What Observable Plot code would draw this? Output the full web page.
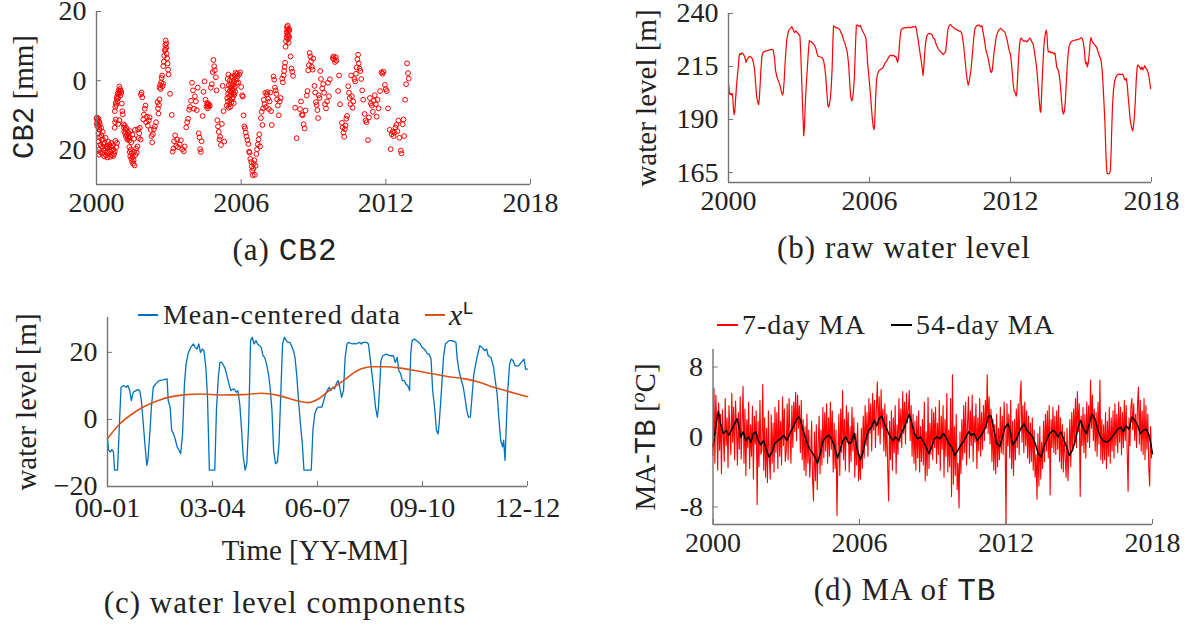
<!DOCTYPE html>
<html><head><meta charset="utf-8">
<script src="https://cdn.jsdelivr.net/npm/d3@7"></script>
<script src="https://cdn.jsdelivr.net/npm/@observablehq/plot@0.6"></script>
<style>
body{margin:0;background:#fff;}
#root{position:relative;width:1190px;height:625px;overflow:hidden;font-family:"Liberation Serif",serif;color:#222;}
.lbl{position:absolute;white-space:nowrap;font-size:29px;line-height:1;}
.rot{transform:translate(-50%,-50%) rotate(-90deg);}
.ctr{transform:translate(-50%,-50%);}
.cap{font-size:31px;letter-spacing:1px;}
.tt{font-family:"Liberation Mono",monospace;}
.leg{position:absolute;height:1.6px;}
</style></head><body><div id="root"></div><script>
// ---------- (a) CB2 ----------
const cb2 = [
[2000.00,-11.0],[2000.01,-12.3],[2000.02,-10.7],[2000.03,-13.1],[2000.05,-11.6],[2000.06,-12.7],[2000.08,-11.0],[2000.10,-13.4],[2000.12,-11.9],[2000.14,-12.6],
[2000.08,-15.2],[2000.09,-17.6],[2000.10,-19.9],[2000.11,-21.4],[2000.13,-14.2],[2000.15,-16.3],[2000.16,-18.5],[2000.17,-20.7],[2000.19,-13.6],[2000.20,-15.7],[2000.22,-17.1],[2000.23,-19.1],[2000.24,-21.1],[2000.26,-14.8],[2000.27,-16.9],[2000.29,-18.3],[2000.30,-20.2],[2000.32,-21.9],[2000.34,-17.9],[2000.36,-19.6],[2000.38,-16.5],[2000.40,-21.6],[2000.42,-18.9],[2000.44,-20.5],[2000.45,-22.2],
[2000.47,-19.4],[2000.49,-17.7],[2000.51,-21.0],[2000.53,-18.6],[2000.55,-20.3],[2000.57,-22.0],[2000.59,-19.1],[2000.61,-18.0],[2000.63,-21.5],[2000.65,-20.1],[2000.67,-18.7],[2000.69,-21.8],[2000.71,-19.9],[2000.73,-21.2],[2000.76,-20.4],[2000.79,-17.4],[2000.82,-19.2],[2000.85,-18.0],
[2000.75,-13.6],[2000.77,-12.0],[2000.80,-11.2],[2000.90,-12.5],[2000.95,-11.4],
[2000.76,-8.8],[2000.78,-7.6],[2000.80,-6.4],[2000.82,-7.0],[2000.84,-5.3],[2000.85,-4.6],[2000.87,-6.0],[2000.88,-3.7],
[2000.90,-5.0],[2000.92,-2.8],[2000.93,-3.8],[2000.95,-1.7],[2000.96,-3.2],[2000.98,-2.4],[2000.99,-4.3],[2001.01,-2.9],[2001.03,-3.5],[2001.05,-6.6],[2001.07,-8.8],[2001.09,-9.7],
[2001.12,-12.6],[2001.14,-13.6],[2001.15,-14.7],[2001.17,-13.0],[2001.19,-15.3],[2001.20,-14.1],[2001.22,-16.2],[2001.24,-13.7],[2001.26,-15.8],[2001.28,-17.0],[2001.30,-14.9],[2001.32,-16.6],[2001.34,-15.2],[2001.36,-17.3],[2001.38,-16.4],[2001.40,-14.6],[2001.44,-17.8],[2001.48,-15.6],[2001.55,-16.8],[2001.60,-14.2],
[2001.36,-19.2],[2001.38,-20.6],[2001.40,-21.8],[2001.42,-19.9],[2001.44,-22.6],[2001.46,-21.0],[2001.48,-23.4],[2001.50,-22.1],[2001.52,-24.0],[2001.54,-23.0],[2001.56,-20.5],[2001.58,-24.5],[2001.61,-21.5],[2001.64,-19.6],[2001.67,-20.8],[2001.70,-19.0],
[2001.72,-14.0],[2001.75,-16.6],[2001.77,-15.2],[2001.80,-13.6],[2001.83,-17.0],
[2001.84,-4.0],[2001.87,-3.4],[2001.90,-4.8],
[2001.94,-11.2],[2001.97,-9.8],[2002.00,-8.1],[2002.03,-7.2],[2002.06,-12.0],[2002.09,-10.4],[2002.13,-13.0],[2002.17,-11.5],[2002.20,-10.6],
[2002.25,-14.2],[2002.28,-16.0],[2002.31,-17.8],[2002.34,-15.5],[2002.38,-14.0],[2002.42,-13.2],[2002.47,-12.0],
[2002.53,-6.2],[2002.55,-8.0],[2002.57,-9.5],[2002.59,-7.0],[2002.61,-5.4],
[2002.62,-2.0],[2002.64,-1.2],[2002.66,-2.4],[2002.68,-0.5],[2002.70,0.8],[2002.72,1.5],[2002.74,-1.6],[2002.76,-0.9],
[2002.77,4.2],[2002.79,5.5],[2002.81,7.2],[2002.83,8.8],[2002.85,10.3],[2002.87,11.6],[2002.89,9.5],[2002.91,7.8],[2002.93,6.5],[2002.95,5.0],[2002.97,3.2],[2002.99,1.8],[2002.86,9.0],[2002.90,10.8],
[2003.05,-3.8],[2003.12,-9.9],
[2003.16,-20.5],[2003.19,-19.6],[2003.22,-17.5],[2003.26,-15.8],[2003.30,-18.9],[2003.34,-17.0],[2003.38,-19.2],
[2003.45,-18.4],[2003.50,-17.2],[2003.56,-19.8],[2003.62,-20.4],[2003.66,-19.0],
[2003.72,-13.5],[2003.76,-12.0],[2003.80,-11.0],[2003.84,-8.4],[2003.88,-7.6],[2003.92,-5.8],[2003.96,-0.6],[2004.00,-2.8],[2004.04,-8.1],
[2004.08,-4.5],[2004.12,-6.0],[2004.16,-8.5],[2004.20,-2.0],[2004.24,-15.2],[2004.27,-16.4],[2004.30,-19.8],[2004.33,-20.6],[2004.36,-17.5],[2004.40,-10.2],
[2004.44,-3.2],[2004.48,-0.2],[2004.52,-5.5],[2004.56,-7.5],[2004.59,-6.4],[2004.62,-8.0],[2004.66,-6.8],[2004.70,-7.2],[2004.74,-2.0],[2004.78,-1.0],[2004.82,2.5],[2004.85,6.0],[2004.88,4.2],[2004.91,3.0],[2004.60,-6.9],[2004.64,-7.4],
[2004.95,1.0],[2004.98,-2.8],[2005.01,-11.4],[2005.04,-13.2],[2005.07,-14.8],[2005.10,-17.0],[2005.13,-16.2],[2005.16,-18.6],[2005.20,-12.5],[2005.23,-1.5],[2005.27,-8.8],[2005.30,-17.6],
[2005.40,-7.2],[2005.42,-5.0],[2005.43,-2.5],[2005.44,0.5],[2005.45,-6.0],[2005.46,-3.8],[2005.47,1.8],[2005.48,-7.8],[2005.49,-1.2],[2005.50,-4.5],[2005.51,-6.8],[2005.52,0.0],[2005.53,-3.0],[2005.54,-5.6],[2005.55,-2.0],[2005.56,-7.5],[2005.57,-0.8],[2005.58,-4.2],[2005.59,1.2],[2005.60,-6.2],[2005.61,-3.4],[2005.62,-1.6],[2005.63,-5.2],[2005.64,-2.6],[2005.65,0.8],[2005.66,-4.8],[2005.67,-1.0],[2005.68,-3.6],[2005.69,-6.5],[2005.70,-2.2],[2005.71,-0.2],[2005.72,-4.0],[2005.73,1.5],[2005.74,-1.8],[2005.75,-3.2],[2005.77,2.3],[2005.79,0.4],[2005.81,-0.6],[2005.83,2.0],[2005.85,1.2],
[2005.88,-0.5],[2005.92,1.8],[2005.96,2.4],[2006.00,-1.8],[2006.04,-4.2],[2006.07,-4.6],[2006.10,-10.0],
[2006.13,-13.2],[2006.16,-13.8],[2006.19,-15.0],[2006.22,-16.1],[2006.26,-17.2],[2006.30,-18.3],
[2006.33,-20.5],[2006.35,-20.8],[2006.38,-22.6],[2006.42,-23.5],[2006.44,-24.8],[2006.46,-26.0],[2006.48,-27.3],[2006.50,-25.4],[2006.52,-24.0],[2006.55,-23.0],[2006.57,-27.2],[2006.60,-24.6],
[2006.63,-21.2],[2006.66,-19.8],[2006.69,-18.4],[2006.72,-17.0],[2006.75,-15.5],[2006.78,-19.0],
[2006.82,-10.8],[2006.85,-9.0],[2006.88,-12.8],[2006.91,-8.0],
[2006.94,-5.5],[2006.97,-6.8],[2007.00,-3.5],[2007.03,-7.6],[2007.06,-4.0],[2007.09,-3.3],[2007.12,-5.2],[2007.15,-8.2],[2007.18,-6.0],[2007.21,-3.4],[2007.24,-8.8],[2007.27,-12.8],[2007.34,1.2],[2007.37,0.3],[2007.40,-2.0],[2007.43,-2.8],[2007.46,-3.8],[2007.49,-5.4],[2007.52,-7.2],[2007.56,-10.0],[2007.60,-6.0],[2007.64,-5.0],
[2007.70,0.6],[2007.73,-0.5],[2007.76,1.5],
[2007.78,2.8],[2007.80,4.0],[2007.82,5.2],[2007.84,9.8],[2007.86,11.4],[2007.88,12.5],[2007.89,14.0],[2007.90,15.5],[2007.91,14.8],[2007.92,13.2],[2007.93,15.9],[2007.94,12.0],[2007.95,14.2],[2007.96,13.0],[2007.97,11.0],[2007.98,15.0],[2007.99,12.6],[2008.00,14.6],
[2008.05,7.0],[2008.09,3.5],[2008.12,2.6],[2008.15,1.4],
[2008.24,-7.8],[2008.30,-16.6],
[2008.44,-8.2],[2008.48,-6.0],[2008.52,-9.8],[2008.55,-10.0],[2008.59,-12.6],[2008.63,-13.8],[2008.67,-8.6],
[2008.72,-4.3],[2008.75,-3.0],[2008.78,3.0],[2008.81,4.5],[2008.84,8.0],[2008.87,7.0],[2008.90,5.6],[2008.93,4.0],[2008.96,3.2],[2008.99,6.4],
[2009.04,-1.5],[2009.07,-3.4],[2009.10,-6.2],[2009.13,-7.0],[2009.16,-8.5],[2009.19,-10.8],[2009.22,-4.2],[2009.25,-5.0],[2009.28,2.8],[2009.31,0.5],
[2009.36,-2.2],[2009.40,-1.0],[2009.44,-3.5],[2009.48,-6.8],[2009.52,-8.0],[2009.56,-6.0],[2009.60,-0.6],[2009.64,-4.5],[2009.68,0.4],
[2009.80,6.5],[2009.83,7.0],[2009.86,6.2],[2009.89,5.4],[2009.92,6.8],[2009.95,5.8],
[2010.02,-3.0],[2010.06,1.5],[2010.10,-6.8],
[2010.18,-12.2],[2010.21,-13.5],[2010.24,-15.0],[2010.27,-16.2],[2010.30,-14.0],[2010.33,-13.0],[2010.36,-11.0],[2010.39,-10.2],
[2010.44,-1.6],[2010.47,-3.5],[2010.50,-5.0],[2010.53,-6.8],[2010.56,1.5],[2010.59,-4.5],[2010.62,-7.8],[2010.65,-6.0],
[2010.70,0.5],[2010.73,-0.2],[2010.76,2.0],[2010.79,3.8],[2010.82,6.2],[2010.85,7.5],[2010.88,5.0],[2010.91,3.5],[2010.94,2.8],
[2010.98,0.5],[2011.02,-2.8],[2011.06,-5.5],
[2011.12,-9.6],[2011.16,-11.5],[2011.20,-12.0],[2011.26,-17.2],[2011.30,-10.6],
[2011.34,-5.0],[2011.38,-6.6],[2011.42,-7.2],[2011.46,-9.0],[2011.50,-5.8],[2011.54,-4.2],[2011.58,-6.8],[2011.62,-10.4],[2011.66,-5.5],[2011.70,-8.0],
[2011.76,-3.0],[2011.82,2.4],[2011.86,2.0],[2011.90,2.6],
[2011.96,-1.2],[2012.00,-2.4],[2012.04,-3.0],[2012.09,-8.0],
[2012.16,-14.2],[2012.20,-19.8],[2012.24,-15.5],[2012.28,-14.8],
[2012.32,-16.0],[2012.36,-15.0],[2012.40,-13.5],[2012.44,-12.8],[2012.48,-14.6],[2012.52,-11.5],[2012.56,-16.5],
[2012.62,-20.2],[2012.65,-21.0],[2012.70,-12.6],[2012.73,-11.2],[2012.76,-16.0],
[2012.80,-5.5],[2012.84,-1.0],[2012.88,5.0],[2012.92,2.2],[2012.95,0.6]
];
const yearTicks = [2000, 2006, 2012, 2018];
const yearLabels = ["2000", "2006", "2012", "2018"];
const cb2Ticks = [-20, 0, 20];
const cb2TickLabels = ["20", "0", "20"];

// ---------- (b) raw water level ----------
const rawLevel = [
[2000.00,207.0],[2000.03,203.5],[2000.06,201.8],[2000.09,202.2],[2000.12,201.6],[2000.15,202.4],[2000.18,200.9],[2000.21,195.0],[2000.24,192.4],[2000.27,194.0],[2000.30,199.5],[2000.34,205.5],[2000.38,210.8],[2000.42,215.2],[2000.45,219.8],[2000.48,221.2],[2000.53,220.6],[2000.58,221.4],[2000.63,220.8],[2000.68,219.9],[2000.72,218.4],[2000.75,217.0],[2000.80,218.6],[2000.85,219.2],[2000.90,219.8],[2000.96,219.4],[2001.02,218.6],[2001.08,215.6],[2001.12,212.4],[2001.16,206.0],[2001.20,200.6],[2001.24,198.4],[2001.28,197.0],[2001.31,199.6],[2001.34,205.2],[2001.38,213.4],[2001.42,219.6],[2001.46,221.4],[2001.52,222.0],[2001.60,222.4],[2001.68,222.6],[2001.76,222.9],[2001.84,223.1],[2001.90,222.8],[2001.96,219.0],
[2002.00,213.3],[2002.05,210.6],[2002.10,208.8],[2002.15,207.4],[2002.20,205.6],[2002.25,203.2],[2002.29,201.6],[2002.33,202.6],[2002.37,208.4],[2002.40,214.9],[2002.44,222.0],[2002.48,227.4],[2002.53,230.6],[2002.58,232.4],[2002.64,233.0],[2002.70,233.8],[2002.74,232.6],[2002.78,231.6],[2002.82,231.0],[2002.86,231.8],[2002.90,231.2],[2002.96,230.6],[2003.00,230.0],[2003.04,229.4],[2003.08,220.0],[2003.12,207.0],[2003.16,194.0],[2003.20,182.4],[2003.23,186.0],[2003.27,197.8],[2003.31,206.6],[2003.36,215.0],[2003.40,222.4],[2003.44,227.2],[2003.50,226.8],[2003.56,226.2],[2003.62,225.6],[2003.68,224.6],[2003.72,223.4],[2003.77,221.0],[2003.81,219.9],[2003.88,219.6],[2003.94,219.4],
[2004.00,219.0],[2004.05,217.6],[2004.10,214.2],[2004.14,210.0],[2004.18,203.6],[2004.22,197.4],[2004.25,195.8],[2004.29,197.0],[2004.33,199.6],[2004.37,205.0],[2004.41,214.0],[2004.44,226.0],[2004.47,234.2],[2004.51,234.0],[2004.56,233.2],[2004.62,233.4],[2004.68,232.8],[2004.73,232.6],[2004.78,231.0],[2004.84,229.8],[2004.90,227.4],[2004.96,225.8],[2005.01,223.4],[2005.05,222.0],[2005.09,218.4],[2005.12,214.6],[2005.16,207.0],[2005.20,200.6],[2005.24,198.8],[2005.28,199.6],[2005.32,203.8],[2005.36,210.4],[2005.40,224.0],[2005.44,234.4],[2005.49,234.6],[2005.55,233.8],[2005.61,234.4],[2005.66,232.8],[2005.71,231.6],[2005.76,230.6],[2005.81,229.6],[2005.85,228.0],[2005.89,222.0],[2005.92,216.6],[2005.96,212.0],
[2006.00,207.0],[2006.04,201.8],[2006.08,196.0],[2006.12,190.4],[2006.16,186.4],[2006.19,185.2],[2006.22,188.0],[2006.26,200.0],[2006.30,208.6],[2006.34,211.4],[2006.39,212.8],[2006.44,213.4],[2006.50,213.8],[2006.56,214.2],[2006.61,215.4],[2006.66,216.6],[2006.72,217.4],[2006.78,218.6],[2006.84,219.8],[2006.90,220.4],[2006.96,220.0],[2007.02,220.4],[2007.08,219.6],[2007.12,219.8],[2007.16,218.2],[2007.20,217.0],[2007.24,220.0],[2007.28,226.0],[2007.32,230.8],[2007.36,232.6],[2007.42,233.0],[2007.50,233.4],[2007.58,233.2],[2007.66,233.6],[2007.74,233.2],[2007.82,233.8],[2007.90,233.6],[2007.96,234.0],
[2008.00,232.4],[2008.04,229.4],[2008.08,227.0],[2008.12,223.6],[2008.16,220.6],[2008.20,217.8],[2008.24,214.4],[2008.28,210.8],[2008.31,214.6],[2008.35,221.6],[2008.39,226.4],[2008.43,229.2],[2008.48,230.2],[2008.54,230.6],[2008.60,230.4],[2008.66,230.0],[2008.71,228.6],[2008.76,228.2],[2008.81,226.4],[2008.86,224.8],[2008.91,223.6],[2008.96,222.8],[2009.02,222.0],[2009.08,221.4],[2009.14,220.6],[2009.20,221.4],[2009.24,222.0],[2009.28,226.0],[2009.32,231.0],[2009.36,233.4],[2009.40,234.4],[2009.45,234.8],[2009.50,234.0],[2009.56,233.6],[2009.62,232.8],[2009.68,232.6],[2009.74,232.2],[2009.80,231.8],[2009.86,231.6],[2009.92,231.0],[2009.96,228.4],
[2010.00,225.6],[2010.04,221.0],[2010.08,216.4],[2010.12,211.8],[2010.16,208.4],[2010.20,206.2],[2010.24,207.8],[2010.28,210.6],[2010.32,213.4],[2010.36,218.6],[2010.40,223.6],[2010.44,229.0],[2010.48,232.6],[2010.54,234.0],[2010.60,234.4],[2010.66,234.6],[2010.72,233.8],[2010.78,234.2],[2010.82,232.0],[2010.86,229.6],[2010.90,227.0],[2010.94,223.4],[2010.98,221.6],[2011.03,219.8],[2011.07,217.6],[2011.11,215.2],[2011.15,212.8],[2011.19,212.2],[2011.23,213.6],[2011.27,218.4],[2011.31,222.6],[2011.36,226.4],[2011.40,229.4],[2011.45,231.0],[2011.52,232.4],[2011.58,233.0],[2011.64,232.4],[2011.70,231.8],[2011.76,231.2],[2011.82,229.0],[2011.87,226.8],[2011.92,223.8],[2011.96,222.0],
[2012.00,220.8],[2012.04,216.4],[2012.08,211.6],[2012.12,206.0],[2012.16,203.2],[2012.20,202.8],[2012.24,201.0],[2012.27,202.4],[2012.30,209.4],[2012.34,218.0],[2012.38,224.6],[2012.42,228.0],[2012.46,228.4],[2012.52,227.4],[2012.58,226.8],[2012.64,227.2],[2012.70,226.6],[2012.76,227.4],[2012.82,228.4],[2012.86,228.0],[2012.91,226.6],[2012.96,225.8],[2013.01,222.8],[2013.06,218.8],[2013.10,215.6],[2013.14,211.0],[2013.18,205.0],[2013.22,199.4],[2013.26,194.4],[2013.29,193.4],[2013.32,201.0],[2013.36,211.6],[2013.40,220.4],[2013.44,227.2],[2013.48,230.2],[2013.52,232.2],[2013.55,230.4],[2013.58,224.0],[2013.61,221.8],[2013.66,222.2],[2013.72,221.4],[2013.78,221.8],[2013.84,221.0],[2013.89,221.4],[2013.93,218.0],[2013.97,214.6],
[2014.01,213.8],[2014.05,212.6],[2014.09,209.8],[2014.13,205.2],[2014.17,199.0],[2014.21,194.4],[2014.25,192.6],[2014.29,193.8],[2014.33,198.0],[2014.37,206.4],[2014.41,214.8],[2014.45,220.6],[2014.49,224.4],[2014.54,226.0],[2014.60,226.8],[2014.66,227.2],[2014.72,227.4],[2014.80,227.6],[2014.88,227.8],[2014.96,228.2],[2015.02,228.6],[2015.07,227.8],[2015.11,225.6],[2015.15,222.0],[2015.18,217.4],[2015.21,216.2],[2015.24,217.0],[2015.27,214.8],[2015.31,216.6],[2015.35,220.8],[2015.39,226.6],[2015.43,228.6],[2015.47,227.0],[2015.51,226.2],[2015.56,225.6],[2015.61,224.8],[2015.66,224.2],[2015.70,222.8],[2015.74,221.4],[2015.78,220.2],[2015.82,219.0],[2015.86,217.6],[2015.90,213.0],[2015.94,206.0],[2015.98,197.4],
[2016.02,188.0],[2016.05,177.0],[2016.08,168.4],[2016.11,164.6],[2016.16,164.4],[2016.21,164.5],[2016.25,166.0],[2016.28,174.0],[2016.31,186.0],[2016.34,196.4],[2016.38,203.4],[2016.42,207.4],[2016.47,209.6],[2016.52,210.8],[2016.58,211.2],[2016.64,211.4],[2016.70,211.2],[2016.76,211.4],[2016.81,210.6],[2016.85,209.0],[2016.89,208.6],[2016.93,209.4],[2016.97,206.0],[2017.01,200.4],[2017.05,195.4],[2017.09,190.2],[2017.13,187.6],[2017.17,185.6],[2017.20,184.6],[2017.23,186.4],[2017.27,191.0],[2017.31,198.6],[2017.35,208.4],[2017.39,214.8],[2017.42,215.8],[2017.46,215.2],[2017.50,214.6],[2017.55,213.6],[2017.59,214.8],[2017.63,213.4],[2017.67,214.2],[2017.71,215.4],[2017.75,214.4],[2017.80,213.8],[2017.84,212.6],[2017.88,211.0],[2017.92,208.0],[2017.96,204.6]
];
const levelTicks = [165, 190, 215, 240];
const levelTickLabels = ["165", "190", "215", "240"];

// ---------- (c) water level components (x = months since 2000-01) ----------
const meanCentered = [
[0,-5.7],[0.4,-9.2],[1.1,-9.7],[1.6,-9.0],[2.2,-9.7],[2.6,-15.1],[3.7,-15.1],[4.4,-1.3],[5.0,9.6],[5.9,10.1],[6.9,9.6],[7.5,10.1],[8.2,8.6],[8.8,5.6],[9.5,8.1],[10.5,8.6],[11.2,8.9],[11.9,8.6],[12.5,5.6],[13.2,-1.3],[13.9,-8.2],[14.5,-13.7],[14.9,-12.2],[15.6,-4.3],[16.2,3.7],[16.9,9.6],[17.8,10.6],[19.1,11.6],[20.4,11.8],[22.0,12.1],[22.4,5.6],[23.1,3.7],[23.7,-3.3],[24.4,-4.3],[25.1,-6.2],[25.7,-8.2],[26.4,-9.2],[27.0,-10.2],[27.7,-4.3],[28.4,10.6],[29.0,16.5],[29.7,19.5],[30.7,21.5],[31.7,22.5],[32.4,21.5],[33.0,21.0],[33.7,22.5],[34.3,20.0],[35.0,21.0],[35.6,20.5],[36.3,15.5],[36.9,6.6],[37.6,-15.1],[39.6,-15.1],[40.2,2.7],[40.9,12.6],[41.5,17.0],[42.2,17.0],[42.9,16.0],[43.5,15.0],[44.2,12.6],[44.8,10.6],[45.5,8.6],[46.2,9.0],[46.8,9.0],[47.5,8.1],[48.1,8.6],[48.8,4.7],[49.5,-3.3],[50.1,-11.2],[50.8,-15.1],[51.4,-13.2],[52.1,-1.3],[52.8,23.5],[53.4,24.5],[54.1,22.5],[54.8,23.5],[55.4,22.5],[56.1,22.0],[56.7,21.5],[57.4,19.0],[58.0,18.5],[58.7,16.5],[59.4,13.6],[60.0,9.6],[60.7,2.7],[61.3,-9.2],[62.0,-13.2],[62.7,-12.7],[63.3,-7.2],[64.0,8.6],[64.6,22.5],[65.3,24.5],[66.0,23.5],[66.6,23.0],[67.3,23.0],[67.9,22.0],[68.6,20.5],[69.2,18.5],[69.9,12.6],[70.5,5.6],[71.2,-1.3],[71.9,-7.2],[72.5,-15.1],[75.2,-15.1],[75.8,-3.3],[76.5,1.7],[77.2,3.2],[77.8,3.7],[79.1,3.7],[79.8,5.6],[80.5,7.6],[81.1,8.6],[81.8,9.6],[82.4,8.6],[83.1,9.6],[83.8,9.1],[84.4,10.6],[85.1,11.6],[85.7,9.6],[86.4,6.6],[87.1,8.6],[87.7,18.5],[88.4,22.5],[89.0,23.0],[90.4,22.5],[91.0,22.7],[91.7,22.5],[93.0,23.0],[93.7,22.5],[94.3,23.0],[95.0,23.0],[95.6,23.0],[96.3,22.5],[96.9,18.5],[97.6,13.6],[98.3,8.6],[98.9,3.7],[99.6,0.7],[100.0,3.7],[100.5,10.6],[100.9,17.5],[101.6,19.0],[102.9,19.5],[104.2,19.0],[105.5,19.0],[106.2,17.0],[106.9,18.5],[107.5,14.6],[108.2,13.6],[108.8,11.6],[109.5,11.6],[110.1,10.6],[110.8,10.1],[111.5,8.6],[111.9,19.5],[112.4,23.5],[113.2,24.0],[114.1,23.5],[114.8,23.0],[115.4,22.5],[116.1,21.5],[116.8,21.0],[117.4,20.5],[118.1,19.5],[118.7,19.5],[119.4,18.0],[120.0,8.6],[120.7,3.7],[121.4,-3.3],[122.0,-4.3],[122.4,-1.3],[123.0,5.6],[124.0,18.5],[124.7,22.5],[126.0,23.5],[127.3,23.5],[128.6,23.0],[129.0,18.5],[129.7,14.6],[130.6,11.6],[131.3,9.6],[131.9,6.6],[132.6,2.7],[133.2,0.7],[133.9,0.7],[134.5,6.6],[135.2,13.6],[135.9,16.5],[136.5,19.0],[137.4,22.0],[138.2,21.5],[139.2,20.5],[139.9,21.0],[140.5,19.0],[141.5,18.5],[142.5,15.5],[143.1,11.6],[143.8,7.6],[144.4,0.7],[145.1,-6.2],[145.8,-8.2],[146.2,-6.2],[146.7,-12.2],[147.1,-3.3],[147.7,8.6],[148.4,16.5],[149.0,18.0],[149.7,17.5],[150.4,16.0],[151.7,16.0],[152.7,17.0],[153.7,18.0],[154.3,15.0],[155.0,15.0]
];
const trendXL = [
[0,-5.7],[4.6,-1.3],[9.2,1.7],[13.2,3.7],[18.5,5.6],[23.7,6.8],[29.0,7.4],[34.3,7.6],[42.2,7.3],[50.1,7.4],[56.7,7.8],[63.3,7.1],[69.9,5.6],[73.9,5.0],[77.8,6.1],[81.8,8.6],[87.1,11.6],[92.3,14.6],[97.6,15.7],[102.9,15.7],[108.2,15.3],[113.4,14.6],[118.7,13.8],[125.3,12.8],[131.9,12.1],[137.2,11.1],[142.5,9.6],[147.7,8.4],[155.0,6.8]
];
const monthTicks = [0, 38.75, 77.5, 116.25, 155];
const monthLabels = ["00-01", "03-04", "06-07", "09-10", "12-12"];
const compTicks = [-20, 0, 20];
const compTickLabels = ["\u221220", "0", "20"];

// ---------- (d) MA of TB ----------
const ma7PerYear = 26; // samples per year in ma7Values
const ma7Values = [
-2.1,5.6,-3.0,4.8,1.2,-3.8,3.9,-1.5,2.6,-4.2,3.1,0.2,-2.8,4.4,-1.0,2.2,-3.5,3.6,0.8,-2.0,5.0,-0.6,3.4,-2.6,4.1,0.9,
-3.2,2.8,-1.4,4.6,-2.5,1.6,5.8,-3.0,3.2,-4.4,2.0,-1.2,4.0,-3.6,1.4,-2.2,3.5,-4.8,2.4,-0.8,3.0,-7.7,1.8,-3.4,4.2,-2.0,
-1.5,6.0,-3.8,2.2,-4.6,1.0,-5.2,3.0,-2.4,-4.8,2.5,-3.0,1.6,-4.0,3.4,-1.8,2.8,-3.6,4.2,-2.2,1.8,-3.2,4.6,-1.0,3.2,-2.8,
-1.6,3.8,-2.6,4.4,0.4,-3.0,3.6,-1.2,4.0,0.6,5.1,-0.4,4.8,1.0,3.6,-1.8,4.2,-2.6,2.0,-3.8,1.2,-4.4,2.6,-3.0,0.8,-4.6,
-2.2,1.8,-4.8,-7.3,0.6,-5.0,1.4,-6.0,-1.0,2.4,-4.2,0.8,-3.2,3.4,-2.4,2.8,-1.6,3.8,-3.0,2.2,-2.2,4.0,-1.4,3.0,-4.0,1.6,
-3.6,0.8,-9.0,-2.2,2.6,-4.4,3.2,-1.8,5.3,-2.6,2.0,-3.8,3.6,-0.6,2.8,-4.0,1.2,-2.8,3.4,-1.6,2.2,-4.6,0.4,-3.2,1.6,-5.0,
-2.0,-4.8,1.0,-3.6,2.4,-2.4,3.6,-1.0,2.8,-2.2,4.4,0.4,3.8,-1.6,5.0,0.8,4.2,-1.2,3.4,6.3,0.2,4.6,-0.8,5.4,1.0,3.2,
-1.6,3.8,-2.2,2.6,-3.4,-7.3,1.8,-2.6,3.0,-3.8,2.2,-1.8,3.6,-4.2,1.4,-2.0,4.4,-0.6,3.2,-1.2,5.2,0.4,4.0,-0.8,5.0,1.6,
3.0,5.3,-0.4,3.6,-2.2,2.6,-3.0,1.8,-3.8,2.4,-2.4,3.0,-4.0,1.2,-2.8,2.0,-3.2,4.0,-5.0,0.6,-4.4,4.5,-3.6,1.6,-2.0,3.2,
-2.6,2.8,-1.2,3.4,-3.0,1.6,-2.0,4.2,-3.8,2.4,-1.4,3.6,-4.6,2.0,-2.2,5.0,-4.0,0.8,-3.4,4.4,-6.8,7.1,-5.4,1.2,-4.4,2.6,
-6.0,-3.0,-8.1,0.6,-4.2,2.0,-2.6,3.6,-1.8,4.0,-3.2,1.4,4.6,-2.4,3.0,-1.0,4.8,-2.8,2.4,-0.6,3.8,-3.6,2.2,-1.6,4.4,-2.2,
2.8,-1.4,3.6,-0.4,4.2,1.0,7.1,0.4,4.6,-0.8,3.2,-2.8,2.0,-3.8,1.4,-4.2,2.6,-3.4,1.0,-2.6,3.4,-1.8,2.4,-2.0,4.0,0.2,
-10.0,3.8,-1.0,2.6,-2.4,4.2,-3.6,1.8,-4.4,2.0,-2.6,3.2,-1.2,3.8,-2.0,4.4,6.4,-0.6,3.6,-1.8,4.0,-1.0,3.0,-2.4,2.4,-3.0,
1.6,-2.8,2.2,-3.8,0.8,-4.6,-2.0,-7.1,0.4,-5.6,1.2,-4.8,-0.6,-3.6,1.8,-2.8,2.6,-1.6,3.0,-2.4,3.6,-6.6,2.0,-1.2,3.4,-1.8,
2.4,-2.0,3.0,-1.4,3.6,-2.8,2.2,-3.6,1.4,-4.0,0.6,-2.4,-4.6,1.0,-5.0,-1.8,2.0,-3.4,2.8,-1.6,3.2,-0.8,4.4,-1.2,5.2,0.6,
3.8,-6.8,2.4,-1.0,3.4,-1.8,2.6,-2.4,4.0,-0.6,3.6,-1.2,6.5,1.0,4.8,-0.4,3.2,-1.6,2.8,-2.2,4.0,-0.8,6.5,-2.6,2.0,-3.0,
1.4,-2.6,2.8,-3.6,1.8,-2.2,3.4,-3.0,2.2,-1.6,3.0,-2.4,3.8,-1.0,2.6,-1.8,4.0,-0.6,3.4,-2.0,2.8,-1.2,4.2,-0.4,3.6,-1.4,
-6.2,2.2,-1.0,3.4,4.4,0.8,3.8,-0.4,2.6,-1.2,3.6,5.7,-0.8,4.2,-1.6,3.0,-2.0,4.4,-2.6,3.6,-1.4,2.6,-3.4,-5.6,1.2,-2.4
];
const ma54 = [
[2000.00,-1.1],[2000.11,1.1],[2000.22,3.0],[2000.31,1.5],[2000.42,0.4],[2000.54,0.75],[2000.65,0.2],[2000.77,0.9],[2000.88,1.5],[2000.99,2.1],[2001.08,0.9],[2001.14,0.0],[2001.24,0.6],[2001.34,-0.4],[2001.45,0.0],[2001.55,-0.6],[2001.65,0.4],[2001.76,0.6],[2001.85,-0.4],[2001.96,-0.9],[2002.07,-0.4],[2002.19,-1.5],[2002.30,-2.3],[2002.42,-1.7],[2002.53,-0.75],[2002.66,-0.4],[2002.78,-0.2],[2002.90,0.2],[2003.03,-0.4],[2003.15,0.4],[2003.28,1.1],[2003.40,1.9],[2003.51,2.3],[2003.59,1.9],[2003.69,0.75],[2003.82,-0.4],[2003.94,-1.3],[2004.05,-1.7],[2004.17,-2.3],[2004.28,-3.0],[2004.39,-1.9],[2004.51,-0.4],[2004.64,0.0],[2004.76,0.2],[2004.88,-0.4],[2004.98,-1.1],[2005.10,-2.4],[2005.21,-1.5],[2005.32,-0.4],[2005.44,0.0],[2005.56,-0.75],[2005.67,-0.6],[2005.78,0.4],[2005.90,-1.3],[2006.03,-2.6],[2006.13,-1.9],[2006.24,-0.4],[2006.37,0.75],[2006.49,1.1],[2006.60,1.9],[2006.71,1.3],[2006.80,2.1],[2006.91,2.4],[2007.02,1.5],[2007.14,0.75],[2007.26,0.0],[2007.37,-0.4],[2007.48,0.0],[2007.60,-0.4],[2007.71,0.4],[2007.84,1.1],[2007.94,1.9],[2008.04,2.6],[2008.15,1.5],[2008.25,0.4],[2008.38,-0.2],[2008.50,0.0],[2008.62,-0.6],[2008.72,-1.1],[2008.84,-1.9],[2008.96,-1.1],[2009.07,-0.2],[2009.18,0.0],[2009.30,-0.2],[2009.43,0.4],[2009.54,0.0],[2009.65,-0.75],[2009.77,-1.1],[2009.90,-2.1],[2010.00,-1.7],[2010.11,-1.1],[2010.24,-0.6],[2010.36,0.0],[2010.47,0.6],[2010.57,0.2],[2010.70,0.4],[2010.82,-0.4],[2010.93,0.0],[2011.03,0.4],[2011.16,1.1],[2011.28,2.4],[2011.39,2.4],[2011.50,0.9],[2011.62,-0.75],[2011.75,-1.1],[2011.85,0.0],[2011.96,1.1],[2012.09,1.5],[2012.18,0.6],[2012.27,-0.9],[2012.40,-0.4],[2012.52,0.4],[2012.63,1.1],[2012.74,1.5],[2012.86,0.75],[2012.98,0.4],[2013.09,0.0],[2013.20,-0.75],[2013.32,-1.9],[2013.45,-2.3],[2013.55,-1.1],[2013.66,-0.4],[2013.79,0.4],[2013.91,0.75],[2014.01,0.6],[2014.13,0.0],[2014.25,0.6],[2014.38,-0.4],[2014.48,-1.1],[2014.59,-2.1],[2014.72,-1.5],[2014.84,-0.4],[2014.95,1.1],[2015.05,1.9],[2015.18,0.9],[2015.30,0.4],[2015.41,1.5],[2015.52,2.6],[2015.64,2.1],[2015.77,0.75],[2015.87,0.0],[2015.98,-0.4],[2016.11,-0.6],[2016.23,-0.4],[2016.34,0.0],[2016.45,0.4],[2016.58,0.9],[2016.70,1.1],[2016.81,0.6],[2016.91,1.3],[2017.04,0.9],[2017.16,2.3],[2017.27,1.9],[2017.37,1.5],[2017.50,0.4],[2017.62,0.75],[2017.73,0.9],[2017.84,0.4],[2017.93,-0.75],[2018.00,-1.9]
];
const tbTicks = [-8, 0, 8];
const tbTickLabels = ["-8", "0", "8"];

// ---------- drawing ----------
const root = document.getElementById("root");
const AX = "#737373";
function panel({left, top, width, height, box, xDomain, yDomain, xTicks, xLabels, yTicks, yLabels, xPad = 8, marks}) {
  const [x0, y0, x1, y1] = box;
  const pw = x1 - x0, ph = y1 - y0;
  const xl = new Map(xTicks.map((t, i) => [t, xLabels[i]]));
  const yl = new Map(yTicks.map((t, i) => [t, yLabels[i]]));
  const p = Plot.plot({
    width, height,
    marginLeft: x0 - left, marginTop: y0 - top,
    marginRight: left + width - x1, marginBottom: top + height - y1,
    x: {domain: xDomain}, y: {domain: yDomain},
    style: {fontFamily: "Liberation Serif", fontSize: "28px", color: "#222", background: "transparent", overflow: "visible"},
    marks: [
      ...marks,
      Plot.ruleX(xTicks, {x: d => d, insetTop: ph - 5, stroke: AX, strokeWidth: 1}),
      Plot.ruleY(yTicks, {y: d => d, insetRight: pw - 5, stroke: AX, strokeWidth: 1}),
      Plot.ruleX([xDomain[0]], {stroke: AX, strokeWidth: 1.4}),
      Plot.ruleY([yDomain[0]], {stroke: AX, strokeWidth: 1.4}),
      Plot.axisX(xTicks, {tickSize: 0, tickPadding: xPad, tickFormat: d => xl.get(d)}),
      Plot.axisY(yTicks, {tickSize: 0, tickPadding: 10, tickFormat: d => yl.get(d)})
    ]
  });
  p.style.position = "absolute";
  p.style.left = left + "px";
  p.style.top = top + "px";
  root.appendChild(p);
}

panel({left: 0, top: 0, width: 560, height: 230, box: [96, 11, 530, 184],
  xDomain: [2000, 2018], yDomain: [-30, 20], xTicks: yearTicks, xLabels: yearLabels, yTicks: cb2Ticks, yLabels: cb2TickLabels,
  marks: [Plot.dot(cb2, {x: d => d[0], y: d => d[1], r: 2.4, stroke: "#ff0000", strokeWidth: 1, fill: "none"})]});

panel({left: 600, top: 0, width: 590, height: 230, box: [728, 13, 1151, 182],
  xDomain: [2000, 2018], yDomain: [160.3, 240], xTicks: yearTicks, xLabels: yearLabels, yTicks: levelTicks, yLabels: levelTickLabels,
  marks: [Plot.line(rawLevel, {x: d => d[0], y: d => d[1], stroke: "#ff0000", strokeWidth: 1.2})]});

panel({left: 0, top: 290, width: 560, height: 250, box: [107, 317, 527, 486],
  xDomain: [0, 155], yDomain: [-20, 30.4], xTicks: monthTicks, xLabels: monthLabels, yTicks: compTicks, yLabels: compTickLabels, xPad: 11,
  marks: [
    Plot.line(meanCentered, {x: d => d[0], y: d => d[1], stroke: "#0072BD", strokeWidth: 1.3}),
    Plot.line(trendXL, {x: d => d[0], y: d => d[1], stroke: "#D95319", strokeWidth: 1.6, curve: "monotone-x"})
  ]});

panel({left: 600, top: 300, width: 590, height: 260, box: [712.5, 349, 1152, 524],
  xDomain: [2000, 2018], yDomain: [-10, 10], xTicks: yearTicks, xLabels: yearLabels, yTicks: tbTicks, yLabels: tbTickLabels,
  marks: [
    Plot.line(ma7Values, {x: (d, i) => 2000 + i / ma7PerYear, y: d => d, stroke: "#ff0000", strokeWidth: 1.1}),
    Plot.line(ma54, {x: d => d[0], y: d => d[1], stroke: "#000", strokeWidth: 1.5})
  ]});

// ---------- labels, captions, legends ----------
function label(html, x, y, cls) {
  const d = document.createElement("div");
  d.className = "lbl " + cls;
  d.style.left = x + "px"; d.style.top = y + "px";
  d.innerHTML = html;
  root.appendChild(d);
  return d;
}
function legLine(x, y, w, color) {
  const d = document.createElement("div");
  d.className = "leg";
  d.style.left = x + "px"; d.style.top = (y - 0.8) + "px"; d.style.width = w + "px"; d.style.background = color;
  root.appendChild(d);
}
label('<span class="tt">CB2</span> [mm]', 24, 97, "rot");
label('water level [m]', 646, 98, "rot");
label('water level [m]', 26, 402, "rot");
label('MA-<span class="tt">TB</span> [<sup style="font-size:20px"><i>o</i></sup>C]', 645, 437, "rot");
label('Time [YY-MM]', 315, 550, "ctr");
label('(a) <span class="tt">CB2</span>', 285, 250, "ctr cap");
label('(b) raw water level', 904, 247, "ctr cap");
label('(c) water level components', 285, 602, "ctr cap");
label('(d) MA of <span class="tt">TB</span>', 905, 590, "ctr cap");

legLine(138, 315, 20, "#0072BD");
const l1 = label('Mean-centered data', 163, 315, ""); l1.style.transform = "translateY(-50%)"; l1.style.fontSize = "28px"; l1.style.letterSpacing = "0.9px";
legLine(425, 315, 20, "#D95319");
const l2 = label('<i>x</i><sup class="tt" style="font-size:19px">L</sup>', 449, 315, ""); l2.style.transform = "translateY(-50%)"; l2.style.fontSize = "30px";
legLine(717, 325, 21, "#ff0000");
const l3 = label('7-day MA', 742, 325, ""); l3.style.transform = "translateY(-50%)"; l3.style.fontSize = "28px"; l3.style.letterSpacing = "1px";
legLine(891, 325, 21, "#000");
const l4 = label('54-day MA', 916, 325, ""); l4.style.transform = "translateY(-50%)"; l4.style.fontSize = "28px"; l4.style.letterSpacing = "1px";
</script></body></html>
